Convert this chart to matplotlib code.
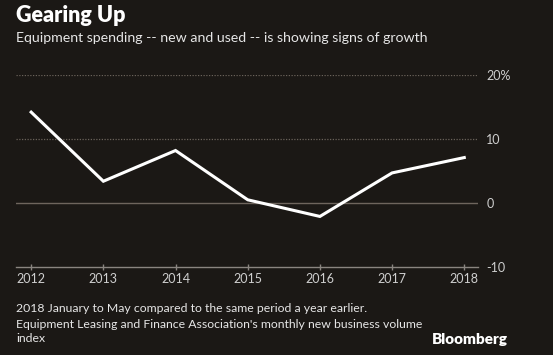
import matplotlib.pyplot as plt

plt.rcParams['font.family'] = ['Lato', 'DejaVu Sans']

years = [2012, 2013, 2014, 2015, 2016, 2017, 2018]
growth = [14.2, 3.4, 8.2, 0.5, -2.1, 4.7, 7.1]
y_ticks = [-10, 0, 10, 20]
y_labels = ['-10', '0', '10', '20%']

bg = '#1b1815'
txt = '#e6e6e6'

fig = plt.figure(figsize=(5.53, 3.55), dpi=100, facecolor=bg)
ax = fig.add_axes([16 / 553, 1 - 267 / 355, 462 / 553, 192 / 355], facecolor=bg)

ax.plot(years, growth, color='white', lw=2.2, solid_joinstyle='miter', zorder=3)

# gridlines
for v in [10, 20]:
    ax.axhline(v, color='#6a625a', lw=0.9, ls=(0, (1, 1.2)), zorder=1)
ax.axhline(0, color='#6e655d', lw=1.0, zorder=1)

ax.set_xlim(2012 - 0.21, 2018 + 0.19)
ax.set_ylim(-10, 20)

for s in ['top', 'left', 'right']:
    ax.spines[s].set_visible(False)
ax.spines['bottom'].set_color('#8a8580')
ax.spines['bottom'].set_linewidth(1.0)

ax.set_xticks(years)
ax.set_xticklabels([str(y) for y in years])
ax.tick_params(axis='x', colors='#8a8580', length=4, width=1, direction='inout',
               labelcolor='#cfcfcf', labelsize=9, pad=2)
ax.yaxis.tick_right()
ax.set_yticks(y_ticks)
ax.set_yticklabels(y_labels)
ax.tick_params(axis='y', length=0, labelcolor='#cfcfcf', labelsize=9, pad=6)

fig.text(16 / 553, 1 - 16 / 355, 'Gearing Up', color='white', fontsize=15.5,
         fontweight='heavy', va='center', ha='left')
fig.text(16 / 553, 1 - 38 / 355, 'Equipment spending -- new and used -- is showing signs of growth',
         color=txt, fontsize=10.2, va='center', ha='left')

fig.text(16 / 553, 1 - 309 / 355, '2018 January to May compared to the same period a year earlier.',
         color=txt, fontsize=8.8, va='center', ha='left')
fig.text(16 / 553, 1 - 324 / 355,
         "Equipment Leasing and Finance Association's monthly new business volume",
         color=txt, fontsize=8.8, va='center', ha='left')
fig.text(16 / 553, 1 - 339 / 355, 'index', color=txt, fontsize=8.8, va='center', ha='left')
fig.text(508 / 553, 1 - 340 / 355, 'Bloomberg', color='white', fontsize=11,
         fontweight='heavy', va='center', ha='right')

fig.savefig('out.png', dpi=100, facecolor=bg)
